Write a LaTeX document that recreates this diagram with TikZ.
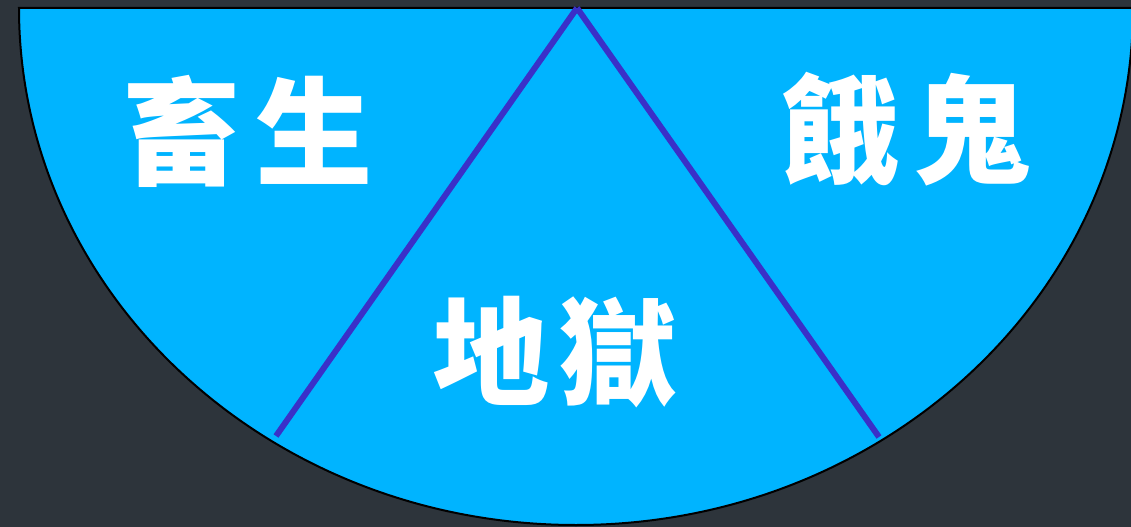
\documentclass[tikz,border=0pt]{standalone}
\usepackage{fontspec}
\newfontfamily\cjk{Noto Sans CJK TC}
\definecolor{slate}{RGB}{45,52,59}
\definecolor{wheelcyan}{RGB}{0,180,255}
\definecolor{divblue}{RGB}{58,48,200}
\begin{document}
\begin{tikzpicture}[x=0.75pt,y=-0.75pt,
    realm/.style={text=white,inner sep=0pt,
      font=\cjk\bfseries\fontsize{88}{88}\selectfont},
    divider/.style={draw=divblue,line width=4.5pt}]
  % dark backdrop, fixes the page size
  \fill[slate] (0,0) rectangle (1131,527);
  \useasboundingbox (0,0) rectangle (1131,527);
  % the lower half of the wheel
  \filldraw[fill=wheelcyan,draw=black,line width=1.5pt]
    (1133,8) arc[start angle=0,end angle=180,x radius=557,y radius=517] -- cycle;
  % the two dividers, from the hub down to the rim
  \coordinate (apex) at (577,8);
  \coordinate (leftfoot) at (276,436);
  \coordinate (rightfoot) at (879,437);
  \foreach \foot in {leftfoot,rightfoot}
    \draw[divider] (apex) -- (\foot);
  % the three realms
  \node[realm] (animals) at (248,131) {畜\hspace{0.13em}生};
  \node[realm] (ghosts) at (906,129) {餓\hspace{0.13em}鬼};
  \node[realm] (hell) at (555,352) {地\hspace{0.08em}獄};
\end{tikzpicture}
\end{document}
